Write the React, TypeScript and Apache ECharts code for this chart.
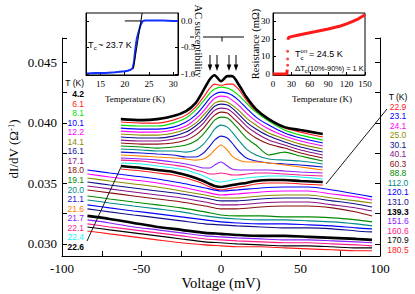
import React, { useEffect, useRef } from "react";
import * as echarts from "echarts";

const SERIF = '"Liberation Serif", "Times New Roman", serif';
const SANS = '"Liberation Sans", Arial, sans-serif';

// Voltage grids (mV)
const voltsLow = [-63, -50, -40, -30, -22, -16, -11, -7, -4, 0, 4, 7, 11, 16, 22, 30, 40, 50, 64];
const voltsHigh = [-84, -70, -55, -40, -25, -10, 0, 10, 25, 40, 55, 70, 85, 95];

// dI/dV (1/Ohm), T <= 22.9 K (on voltsLow)
const T4_2 = [0.0403, 0.04022, 0.0403, 0.04055, 0.04096, 0.04162, 0.04269, 0.0436, 0.04393, 0.04343, 0.04385, 0.04385, 0.04319, 0.04212, 0.04113, 0.0403, 0.03964, 0.0394, 0.03907];
const T6_1 = [0.04006, 0.03997, 0.03997, 0.04022, 0.04063, 0.04129, 0.04212, 0.04286, 0.04319, 0.0431, 0.04319, 0.04319, 0.04278, 0.04187, 0.04096, 0.04022, 0.03956, 0.03923, 0.03882];
const T8_1 = [0.03981, 0.03973, 0.03973, 0.03997, 0.04039, 0.04104, 0.04179, 0.04245, 0.04278, 0.04294, 0.04286, 0.04269, 0.04228, 0.04162, 0.04088, 0.04014, 0.0394, 0.03898, 0.03857];
const T10_1 = [0.03956, 0.03948, 0.03948, 0.03964, 0.04006, 0.04063, 0.04137, 0.04203, 0.04236, 0.04253, 0.04245, 0.04228, 0.04187, 0.04121, 0.04047, 0.03981, 0.03915, 0.03874, 0.03833];
const T12_2 = [0.03931, 0.03923, 0.03923, 0.0394, 0.03973, 0.0403, 0.04096, 0.04162, 0.04203, 0.0422, 0.04212, 0.04187, 0.04146, 0.0408, 0.04014, 0.03948, 0.0389, 0.03849, 0.03808];
const T14_1 = [0.03907, 0.03898, 0.03898, 0.03915, 0.03948, 0.03997, 0.04063, 0.04121, 0.04162, 0.04179, 0.0417, 0.04146, 0.04104, 0.04039, 0.03981, 0.03915, 0.03866, 0.03824, 0.03783];
const T16_1 = [0.03882, 0.03874, 0.03874, 0.0389, 0.03923, 0.03973, 0.0403, 0.04096, 0.04137, 0.04154, 0.04146, 0.04121, 0.04072, 0.04006, 0.03948, 0.0389, 0.03841, 0.038, 0.03758];
const T17_1 = [0.03857, 0.03849, 0.03849, 0.03866, 0.0389, 0.0394, 0.03997, 0.04063, 0.04104, 0.04121, 0.04113, 0.04088, 0.04039, 0.03973, 0.03915, 0.03857, 0.03816, 0.03775, 0.03734];
const T18_0 = [0.03833, 0.03824, 0.03824, 0.03833, 0.03857, 0.03898, 0.03956, 0.04022, 0.04063, 0.04088, 0.0408, 0.04047, 0.03997, 0.03931, 0.03874, 0.03824, 0.03791, 0.0375, 0.03709];
const T19_1 = [0.03808, 0.038, 0.03791, 0.038, 0.03816, 0.03849, 0.03907, 0.03973, 0.04022, 0.04047, 0.04039, 0.04006, 0.03948, 0.03874, 0.03816, 0.03734, 0.03758, 0.03725, 0.03684];
const T20_0 = [0.03783, 0.03775, 0.03767, 0.03767, 0.03758, 0.03775, 0.03824, 0.0389, 0.03948, 0.03981, 0.03964, 0.03923, 0.03857, 0.03783, 0.03734, 0.03701, 0.03692, 0.03684, 0.0366];
const T21_1 = [0.03758, 0.0375, 0.03742, 0.03734, 0.03717, 0.03717, 0.0375, 0.03808, 0.03857, 0.0389, 0.03874, 0.03833, 0.03767, 0.03709, 0.03684, 0.03668, 0.0366, 0.03651, 0.03635];
const T21_6 = [0.03734, 0.03725, 0.03717, 0.03709, 0.03701, 0.03692, 0.03701, 0.03734, 0.03775, 0.03816, 0.03775, 0.03725, 0.03692, 0.03676, 0.03676, 0.03668, 0.03651, 0.03635, 0.0361];
const T21_7 = [0.03709, 0.03701, 0.03692, 0.03676, 0.0366, 0.03643, 0.03627, 0.03627, 0.03651, 0.03676, 0.03643, 0.03618, 0.0361, 0.0361, 0.0361, 0.0361, 0.03602, 0.03594, 0.03585];
const T22_1 = [0.03692, 0.03684, 0.03668, 0.03651, 0.03635, 0.0361, 0.03594, 0.03577, 0.03577, 0.03585, 0.03577, 0.03569, 0.03569, 0.03577, 0.03585, 0.03585, 0.03577, 0.03569, 0.03561];
const T22_4 = [0.03668, 0.0366, 0.03643, 0.03627, 0.0361, 0.03585, 0.03561, 0.03536, 0.03519, 0.03511, 0.03519, 0.03528, 0.03536, 0.03544, 0.03552, 0.03561, 0.03561, 0.03552, 0.03536];
const T22_6 = [0.03643, 0.03627, 0.0361, 0.03594, 0.03569, 0.03544, 0.03519, 0.03495, 0.03478, 0.0347, 0.03478, 0.03486, 0.03495, 0.03503, 0.03519, 0.03528, 0.03528, 0.03519, 0.03511];
const T22_9 = [0.03618, 0.03602, 0.03585, 0.03569, 0.03544, 0.03519, 0.03495, 0.0347, 0.03454, 0.03445, 0.03454, 0.03462, 0.0347, 0.03478, 0.03495, 0.03503, 0.03503, 0.03495, 0.03486];

// dI/dV (1/Ohm), T >= 23.1 K (on voltsHigh)
const T23_1 = [0.0361, 0.03585, 0.03561, 0.03536, 0.03503, 0.03462, 0.03437, 0.03445, 0.03462, 0.0347, 0.0347, 0.03445, 0.03412, 0.03388];
const T24_1 = [0.03577, 0.03552, 0.03528, 0.03503, 0.0347, 0.03429, 0.03404, 0.03412, 0.03429, 0.03437, 0.03437, 0.03412, 0.03388, 0.03363];
const T25_0 = [0.03544, 0.03519, 0.03495, 0.0347, 0.03437, 0.03404, 0.03379, 0.03379, 0.03396, 0.03404, 0.03404, 0.03379, 0.03355, 0.03338];
const T30_1 = [0.03511, 0.03486, 0.03462, 0.03437, 0.03412, 0.03379, 0.03355, 0.03355, 0.03371, 0.03379, 0.03379, 0.03355, 0.0333, 0.03305];
const T40_1 = [0.03478, 0.03454, 0.03429, 0.03404, 0.03379, 0.03346, 0.03322, 0.03322, 0.03338, 0.03346, 0.03346, 0.03322, 0.03297, 0.03272];
const T60_3 = [0.03445, 0.03421, 0.03396, 0.03371, 0.03346, 0.03313, 0.03289, 0.03289, 0.03305, 0.03313, 0.03313, 0.03297, 0.03264, 0.03231];
const T88_8 = [0.03396, 0.03371, 0.03346, 0.03322, 0.03297, 0.03264, 0.03239, 0.03231, 0.03231, 0.03223, 0.03223, 0.03215, 0.03198, 0.03182];
const T112_0 = [0.03363, 0.03338, 0.03313, 0.03289, 0.03264, 0.03231, 0.03215, 0.03206, 0.03198, 0.03198, 0.0319, 0.03182, 0.03165, 0.03149];
const T120_1 = [0.03322, 0.03297, 0.03272, 0.03248, 0.03223, 0.03198, 0.03182, 0.03173, 0.03165, 0.03165, 0.03157, 0.03149, 0.03132, 0.03124];
const T131_0 = [0.03289, 0.03264, 0.03239, 0.03215, 0.0319, 0.03165, 0.03157, 0.03149, 0.0314, 0.03132, 0.03132, 0.03124, 0.03107, 0.03099];
const T139_3 = [0.03231, 0.03206, 0.03173, 0.0314, 0.03116, 0.03091, 0.03083, 0.03074, 0.03066, 0.03066, 0.03058, 0.0305, 0.03041, 0.03033];
const T151_6 = [0.03198, 0.03173, 0.0314, 0.03116, 0.03091, 0.03066, 0.03058, 0.0305, 0.03041, 0.03033, 0.03033, 0.03025, 0.03017, 0.03009];
const T160_6 = [0.03165, 0.0314, 0.03116, 0.03091, 0.03066, 0.03041, 0.03033, 0.03025, 0.03017, 0.03009, 0.03009, 0.03, 0.02992, 0.02984];
const T170_9 = [0.0314, 0.03116, 0.03091, 0.03066, 0.03041, 0.03017, 0.03009, 0.03, 0.02992, 0.02984, 0.02984, 0.02976, 0.02967, 0.02967];
const T180_5 = [0.03107, 0.03083, 0.03058, 0.03033, 0.03009, 0.02992, 0.02984, 0.02976, 0.02976, 0.02967, 0.02959, 0.02951, 0.02943, 0.02943];

const lowLabels = ["4.2", "6.1", "8.1", "10.1", "12.2", "14.1", "16.1", "17.1", "18.0", "19.1", "20.0", "21.1", "21.6", "21.7", "22.1", "22.4", "22.6", "22.9"];
const lowCurves = [T4_2, T6_1, T8_1, T10_1, T12_2, T14_1, T16_1, T17_1, T18_0, T19_1, T20_0, T21_1, T21_6, T21_7, T22_1, T22_4, T22_6, T22_9];
const highLabels = ["23.1", "24.1", "25.0", "30.1", "40.1", "60.3", "88.8", "112.0", "120.1", "131.0", "139.3", "151.6", "160.6", "170.9", "180.5"];
const highCurves = [T23_1, T24_1, T25_0, T30_1, T40_1, T60_3, T88_8, T112_0, T120_1, T131_0, T139_3, T151_6, T160_6, T170_9, T180_5];
const boldLabels = ["4.2", "22.6", "139.3"];

const colorOf: Record<string, string> = {
  "4.2": "#000000", "6.1": "#ff1a1a", "8.1": "#00e000", "10.1": "#0000ff", "12.2": "#ff00ff",
  "14.1": "#8c8c00", "16.1": "#10108a", "17.1": "#8a108a", "18.0": "#8a1010", "19.1": "#008a00",
  "20.0": "#008a8a", "21.1": "#1414d0", "21.6": "#ff8000", "21.7": "#8a20ff", "22.1": "#ff1a8a",
  "22.4": "#20f0f0", "22.6": "#000000", "22.9": "#ff1a1a", "23.1": "#0000ff", "24.1": "#ff00ff",
  "25.0": "#8c8c00", "30.1": "#10108a", "40.1": "#8a108a", "60.3": "#8a1010", "88.8": "#008a00",
  "112.0": "#008a8a", "120.1": "#0000ff", "131.0": "#10108a", "139.3": "#000000", "151.6": "#8a20ff",
  "160.6": "#ff1a8a", "170.9": "#000000", "180.5": "#ff1a1a",
};

// Left legend column and right legend column
const leftLegend = lowLabels.slice(0, 17);
const rightLegend = ["22.9", ...highLabels];

// Inset 1: AC susceptibility vs temperature
const acTemp = [12.2, 14, 16, 18, 19, 20, 20.6, 21.2, 21.6, 21.9, 22.1, 22.3, 22.5, 22.8, 23.0, 23.3, 23.6, 23.8, 24.2, 25, 26, 28, 30, 31];
const acChi = [-0.99, -0.98, -0.98, -0.97, -0.96, -0.95, -0.94, -0.92, -0.9, -0.78, -0.6, -0.45, -0.33, -0.23, -0.16, -0.07, -0.02, 0, 0.01, 0.01, 0.01, 0.01, 0, 0];
const tanTemp = [21.8, 23.6];
const tanChi = [-0.9, 0.15];
const flatTemp = [20, 23.5];
const flatChi = [0, 0];

// Inset 2: resistance (mOhm) vs temperature
const rZeroTemp = [0, 5, 10, 15, 20, 22.5, 23.2];
const rZero = [0, 0, 0, 0, 0, 0, 2.5];
const rDotTemp = [23.8, 23.8, 23.8];
const rDot = [5, 8.5, 13];
const rNormTemp = [24.5, 25, 27, 30, 40, 50, 60, 70, 80, 90, 100, 110, 120, 130, 140, 150];
const rNorm = [19.5, 20.6, 21.0, 21.3, 22.1, 22.8, 23.5, 24.2, 25.0, 25.7, 26.5, 27.4, 28.6, 30.0, 31.6, 33.8];

const yTicks = [0.03, 0.0325, 0.035, 0.0375, 0.04, 0.0425, 0.045, 0.047];
const yLabels = [0.03, 0.035, 0.04, 0.045];

function buildOption() {
  const series: any[] = [];
  lowCurves.forEach((vals, i) => {
    const lab = lowLabels[i];
    const bold = boldLabels.includes(lab);
    series.push({
      type: "line", xAxisIndex: 0, yAxisIndex: 0, silent: true, showSymbol: false,
      smooth: 0.25, z: bold ? 4 : 3,
      data: voltsLow.map((v, j) => [v, vals[j]]),
      lineStyle: { color: colorOf[lab], width: bold ? 2.6 : 1.1 },
    });
  });
  highCurves.forEach((vals, i) => {
    const lab = highLabels[i];
    const bold = boldLabels.includes(lab);
    series.push({
      type: "line", xAxisIndex: 0, yAxisIndex: 0, silent: true, showSymbol: false,
      smooth: 0.25, z: bold ? 4 : 3,
      data: voltsHigh.map((v, j) => [v, vals[j]]),
      lineStyle: { color: colorOf[lab], width: bold ? 2.6 : 1.1 },
    });
  });
  series.push({
    type: "line", xAxisIndex: 1, yAxisIndex: 2, silent: true, showSymbol: false, z: 6,
    data: acTemp.map((t, j) => [t, acChi[j]]), lineStyle: { color: "#1030ff", width: 2 },
  });
  series.push({
    type: "line", xAxisIndex: 1, yAxisIndex: 2, silent: true, showSymbol: false, z: 7,
    data: tanTemp.map((t, j) => [t, tanChi[j]]), lineStyle: { color: "#000", width: 1 },
  });
  series.push({
    type: "line", xAxisIndex: 1, yAxisIndex: 2, silent: true, showSymbol: false, z: 7,
    data: flatTemp.map((t, j) => [t, flatChi[j]]), lineStyle: { color: "#000", width: 1 },
  });
  series.push({
    type: "line", xAxisIndex: 2, yAxisIndex: 4, silent: true, showSymbol: false, z: 6,
    data: rZeroTemp.map((t, j) => [t, rZero[j]]), lineStyle: { color: "#ff1a1a", width: 3 },
  });
  series.push({
    type: "scatter", xAxisIndex: 2, yAxisIndex: 4, silent: true, z: 6, symbolSize: 3,
    data: rDotTemp.map((t, j) => [t, rDot[j]]), itemStyle: { color: "#ff1a1a" },
  });
  series.push({
    type: "line", xAxisIndex: 2, yAxisIndex: 4, silent: true, showSymbol: false, z: 6,
    data: rNormTemp.map((t, j) => [t, rNorm[j]]), lineStyle: { color: "#ff1a1a", width: 3 },
  });

  const g: any[] = [];
  const text = (x: number, y: number, s: string, o: any = {}) => ({
    type: "text", x, y, silent: true, z: 20, rotation: o.rotation || 0,
    scaleX: o.scaleX || 1,
    style: {
      text: s, fill: o.color || "#000", fontSize: o.size || 9, fontFamily: o.family || SERIF,
      fontWeight: o.bold ? "bold" : "normal", align: o.align || "left", verticalAlign: o.va || "middle",
    },
  });
  const seg = (x1: number, y1: number, x2: number, y2: number, w = 1) => ({
    type: "line", silent: true, z: 20, shape: { x1, y1, x2, y2 }, style: { stroke: "#000", lineWidth: w },
  });

  // legend columns
  g.push(text(84, 83, "T (K)", { align: "right", family: SANS, size: 8.5 }));
  leftLegend.forEach((lab, i) => {
    g.push(text(84, 94 + i * 9.55, lab, { align: "right", family: SANS, size: 8.5, color: colorOf[lab], bold: boldLabels.includes(lab) }));
  });
  g.push(text(398, 97, "T (K)", { align: "center", family: SANS, size: 8.5 }));
  rightLegend.forEach((lab, i) => {
    g.push(text(398, 106.5 + i * 9.55, lab, { align: "center", family: SANS, size: 8.5, color: colorOf[lab], bold: boldLabels.includes(lab) }));
  });
  // connector lines
  g.push(seg(87, 241, 121, 167, 0.9));
  g.push(seg(387, 109, 326, 184, 0.9));

  // arrows at the gap features
  [210, 217, 229, 236].forEach((x) => {
    g.push(seg(x, 55, x, 66, 1));
    g.push({ type: "polygon", silent: true, z: 20, shape: { points: [[x - 2.3, 64.5], [x + 2.3, 64.5], [x, 71]] }, style: { fill: "#000" } });
  });
  // bar marker
  g.push(seg(190, 37, 194, 37, 1));
  g.push(seg(203, 37, 244, 37, 1));
  g.push(seg(222, 37, 222, 41.5, 1));

  // axis titles
  g.push({
    type: "text", x: 13, y: 149, rotation: Math.PI / 2, silent: true, z: 20,
    style: {
      text: "{n|dI/dV (Ω}{s|-1}{n|)}", align: "center", verticalAlign: "middle", fill: "#000",
      rich: { n: { fontSize: 13, fontFamily: SERIF, fill: "#000" }, s: { fontSize: 8.5, fontFamily: SERIF, fill: "#000", verticalAlign: "top" } },
    },
  });
  g.push(text(221, 283, "Voltage (mV)", { align: "center", size: 14.5 }));
  g.push(text(135, 99, "Temperature (K)", { align: "center", size: 9 }));
  g.push(text(322, 99, "Temperature (K)", { align: "center", size: 9 }));
  g.push(text(198, 41, "AC susceptibility", { align: "center", size: 10.5, rotation: -Math.PI / 2 }));
  g.push(text(255, 44, "Resistance (mΩ)", { align: "center", size: 10.5, rotation: Math.PI / 2 }));

  // inset annotations
  g.push(text(88, 45, "T", { family: SANS, size: 9 }));
  g.push(text(93.8, 48, "c", { family: SANS, size: 6 }));
  g.push(text(98, 45, "~ 23.7 K", { family: SANS, size: 9 }));
  g.push(text(295, 54, "T", { family: SANS, size: 9 }));
  g.push(text(300.6, 50.5, "on", { family: SANS, size: 6 }));
  g.push(text(300.6, 57.5, "c", { family: SANS, size: 6 }));
  g.push(text(309, 54, "= 24.5 K", { family: SANS, size: 9 }));
  g.push(text(295, 68, "ΔT", { family: SANS, size: 8 }));
  g.push(text(304.8, 70.5, "c", { family: SANS, size: 5.5 }));
  g.push(text(307.5, 68, "(10%-90%) = 1 K", { family: SANS, size: 8, scaleX: 0.92 }));

  const axisLine = { show: true, onZero: false, lineStyle: { color: "#000", width: 1 } };
  const tick = (len: number, extra: any = {}) => ({ show: true, inside: true, length: len, lineStyle: { color: "#000", width: 1 }, ...extra });
  const lbl = (size: number, extra: any = {}) => ({ color: "#000", fontFamily: SERIF, fontSize: size, ...extra });

  return {
    animation: false,
    backgroundColor: "#fff",
    grid: [
      { left: 62, top: 38, width: 318, height: 218 },
      { left: 86, top: 13, width: 92, height: 62, show: true, borderColor: "#000", borderWidth: 1, backgroundColor: "#fff" },
      { left: 273, top: 13, width: 92, height: 62, show: true, borderColor: "#000", borderWidth: 1, backgroundColor: "#fff" },
    ],
    xAxis: [
      {
        gridIndex: 0, type: "value", min: -100, max: 100, interval: 25, axisLine,
        axisTick: tick(5), splitLine: { show: false },
        axisLabel: lbl(13, { margin: 6, formatter: (v: number) => (v % 50 === 0 ? String(v) : "") }),
      },
      {
        gridIndex: 1, type: "value", min: 12, max: 31, axisLine,
        axisTick: tick(3, { customValues: [15, 20, 25, 30] }), splitLine: { show: false },
        axisLabel: lbl(9, { margin: 4, customValues: [15, 20, 25, 30] }),
      },
      {
        gridIndex: 2, type: "value", min: 0, max: 150, interval: 30, axisLine,
        axisTick: tick(3), splitLine: { show: false },
        axisLabel: lbl(9, { margin: 4 }),
      },
    ],
    yAxis: [
      {
        gridIndex: 0, type: "value", position: "left", min: 0.029, max: 0.047, axisLine,
        axisTick: tick(5, { customValues: yTicks }), splitLine: { show: false },
        axisLabel: lbl(13, { margin: 5, customValues: yLabels, formatter: (v: number) => v.toFixed(3) }),
      },
      {
        gridIndex: 0, type: "value", position: "right", min: 0.029, max: 0.047, axisLine,
        axisTick: tick(5, { customValues: yTicks }), splitLine: { show: false }, axisLabel: { show: false },
      },
      {
        gridIndex: 1, type: "value", position: "right", min: -1.02, max: 0.15, axisLine,
        axisTick: tick(3, { customValues: [0, -0.5, -1] }), splitLine: { show: false },
        axisLabel: lbl(9, { margin: 3, customValues: [0, -0.5, -1], formatter: (v: number) => v.toFixed(1) }),
      },
      {
        gridIndex: 1, type: "value", position: "left", min: -1.02, max: 0.15, axisLine,
        axisTick: tick(3, { customValues: [0, -0.5, -1] }), splitLine: { show: false }, axisLabel: { show: false },
      },
      {
        gridIndex: 2, type: "value", position: "left", min: -0.6, max: 34.8, axisLine,
        axisTick: tick(3, { customValues: [0, 10, 20, 30] }), splitLine: { show: false },
        axisLabel: lbl(9, { margin: 3, customValues: [0, 10, 20, 30] }),
      },
    ],
    series,
    graphic: g,
  };
}

export default function App() {
  const ref = useRef<HTMLDivElement>(null);
  useEffect(() => {
    document.body.style.margin = "0";
    const chart = echarts.init(ref.current!, null, { renderer: "svg" });
    chart.setOption(buildOption() as any);
    return () => chart.dispose();
  }, []);
  return <div ref={ref} style={{ position: "fixed", left: 0, top: 0, width: 415, height: 294 }} />;
}
